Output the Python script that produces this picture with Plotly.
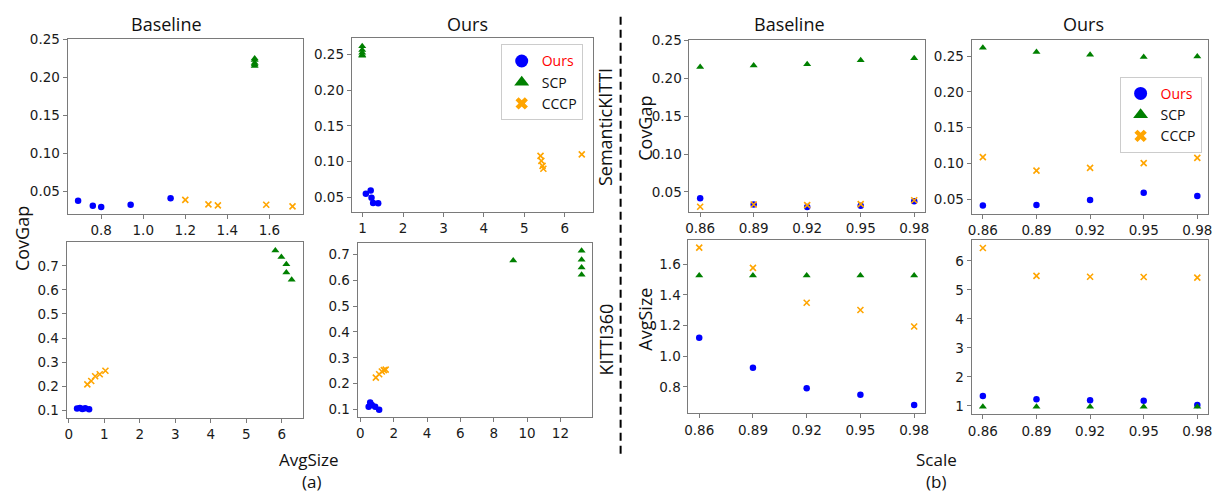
import plotly.graph_objects as go

W, H = 1216, 495

# ---------------- data ----------------
scales = [0.86, 0.89, 0.92, 0.95, 0.98]
scale_labels = ["0.86", "0.89", "0.92", "0.95", "0.98"]

# (a) SemanticKITTI - Baseline  (x: AvgSize, y: CovGap)
sk_base_ours_size = [0.69, 0.76, 0.80, 0.94, 1.13]
sk_base_ours_gap = [0.038, 0.0315, 0.0297, 0.0328, 0.0413]
sk_base_scp_size = [1.53, 1.53, 1.53, 1.53, 1.53]
sk_base_scp_gap = [0.215, 0.217, 0.219, 0.223, 0.225]
sk_base_cccp_size = [1.20, 1.31, 1.355, 1.585, 1.71]
sk_base_cccp_gap = [0.039, 0.0332, 0.0318, 0.0327, 0.0305]

# (a) SemanticKITTI - Ours
sk_ours_ours_size = [1.385, 1.26, 1.22, 1.20, 1.08]
sk_ours_ours_gap = [0.0418, 0.0422, 0.0495, 0.0596, 0.055]
sk_ours_scp_size = [0.99, 0.99, 0.99, 0.99, 0.99]
sk_ours_scp_gap = [0.261, 0.256, 0.252, 0.248, 0.249]
sk_ours_cccp_size = [6.42, 5.47, 5.45, 5.42, 5.40]
sk_ours_cccp_gap = [0.110, 0.090, 0.094, 0.101, 0.108]

# (a) KITTI360 - Baseline
k_base_ours_size = [0.23, 0.31, 0.38, 0.46, 0.57]
k_base_ours_gap = [0.107, 0.109, 0.105, 0.108, 0.103]
k_base_scp_size = [5.82, 5.99, 6.13, 6.13, 6.28]
k_base_scp_gap = [0.764, 0.737, 0.707, 0.673, 0.642]
k_base_cccp_size = [0.52, 0.63, 0.74, 0.87, 1.03]
k_base_cccp_gap = [0.207, 0.221, 0.241, 0.249, 0.264]

# (a) KITTI360 - Ours
k_ours_ours_size = [0.50, 0.59, 0.69, 0.89, 1.13]
k_ours_ours_gap = [0.110, 0.127, 0.117, 0.110, 0.099]
k_ours_scp_size = [9.17, 13.27, 13.27, 13.27, 13.27]
k_ours_scp_gap = [0.677, 0.715, 0.680, 0.650, 0.622]
k_ours_cccp_size = [0.93, 1.13, 1.29, 1.41, 1.52]
k_ours_cccp_gap = [0.223, 0.236, 0.247, 0.252, 0.254]

# (b) vs Scale
b_sk_base_ours = [0.0417, 0.0335, 0.0300, 0.0318, 0.0378]
b_sk_base_scp = [0.215, 0.217, 0.2187, 0.224, 0.2265]
b_sk_base_cccp = [0.0304, 0.0335, 0.0326, 0.0339, 0.039]
b_sk_ours_ours = [0.0413, 0.0422, 0.049, 0.0591, 0.0546]
b_sk_ours_scp = [0.262, 0.256, 0.252, 0.249, 0.2495]
b_sk_ours_cccp = [0.109, 0.090, 0.094, 0.1006, 0.108]
b_k_base_ours = [1.121, 0.925, 0.791, 0.749, 0.681]
b_k_base_scp = [1.527, 1.527, 1.527, 1.527, 1.527]
b_k_base_cccp = [1.709, 1.577, 1.349, 1.302, 1.194]
b_k_ours_ours = [1.34, 1.23, 1.19, 1.17, 1.03]
b_k_ours_scp = [0.97, 0.97, 0.97, 0.97, 0.97]
b_k_ours_cccp = [6.44, 5.48, 5.45, 5.44, 5.42]

# ---------------- styles ----------------
BLUE, GREEN, ORANGE = "#0000ff", "#008000", "#ffa500"
TICKFONT = dict(family="DejaVu Sans", size=13.5, color="#1a1a1a")
LABFONT = dict(family="Open Sans", size=18, color="#111")
FRAME = "#7a7a7a"


def mk_ours(x, y, ax):
    return go.Scatter(x=x, y=y, mode="markers", xaxis="x" + ax, yaxis="y" + ax, showlegend=False,
                      marker=dict(symbol="circle", size=6.5, color=BLUE))


def mk_scp(x, y, ax):
    return go.Scatter(x=x, y=y, mode="markers", xaxis="x" + ax, yaxis="y" + ax, showlegend=False,
                      marker=dict(symbol="triangle-up", size=7, color=GREEN))


def mk_cccp(x, y, ax):
    return go.Scatter(x=x, y=y, mode="markers", xaxis="x" + ax, yaxis="y" + ax, showlegend=False,
                      marker=dict(symbol="x-thin", size=6, color=ORANGE,
                                  line=dict(width=1.6, color=ORANGE)))


fig = go.Figure()

panels = [
    ("", sk_base_ours_size, sk_base_ours_gap, sk_base_scp_size, sk_base_scp_gap, sk_base_cccp_size, sk_base_cccp_gap),
    ("2", sk_ours_ours_size, sk_ours_ours_gap, sk_ours_scp_size, sk_ours_scp_gap, sk_ours_cccp_size, sk_ours_cccp_gap),
    ("3", k_base_ours_size, k_base_ours_gap, k_base_scp_size, k_base_scp_gap, k_base_cccp_size, k_base_cccp_gap),
    ("4", k_ours_ours_size, k_ours_ours_gap, k_ours_scp_size, k_ours_scp_gap, k_ours_cccp_size, k_ours_cccp_gap),
    ("5", scales, b_sk_base_ours, scales, b_sk_base_scp, scales, b_sk_base_cccp),
    ("6", scales, b_sk_ours_ours, scales, b_sk_ours_scp, scales, b_sk_ours_cccp),
    ("7", scales, b_k_base_ours, scales, b_k_base_scp, scales, b_k_base_cccp),
    ("8", scales, b_k_ours_ours, scales, b_k_ours_scp, scales, b_k_ours_cccp),
]
for ax, ox, oy, sx, sy, cx, cy in panels:
    fig.add_trace(mk_ours(ox, oy, ax))
    fig.add_trace(mk_scp(sx, sy, ax))
    fig.add_trace(mk_cccp(cx, cy, ax))

# legend-only entries
for lg in ["legend", "legend2"]:
    fig.add_trace(go.Scatter(x=[None], y=[None], mode="markers", name="<span style='color:red'>Ours</span>",
                             legend=lg, marker=dict(symbol="circle", size=13, color=BLUE)))
    fig.add_trace(go.Scatter(x=[None], y=[None], mode="markers", name="SCP",
                             legend=lg, marker=dict(symbol="triangle-up", size=13, color=GREEN)))
    fig.add_trace(go.Scatter(x=[None], y=[None], mode="markers", name="CCCP",
                             legend=lg, marker=dict(symbol="x", size=11, color=ORANGE)))


def dx(a, b):
    return [a / W, b / W]


def dy(top, bottom):
    return [1 - bottom / H, 1 - top / H]


def xax(dom, rng, anchor, **kw):
    d = dict(domain=dom, range=rng, anchor=anchor, showgrid=False, zeroline=False, showline=True,
             mirror=True, linecolor=FRAME, linewidth=1, ticks="outside", ticklen=4, tickcolor=FRAME,
             tickfont=TICKFONT)
    d.update(kw)
    return d


layout_axes = dict(
    xaxis=xax(dx(64, 301), [0.64, 1.76], "y", tickvals=[0.8, 1.0, 1.2, 1.4, 1.6], tickformat=".1f"),
    yaxis=xax(dy(32, 209), [0.021, 0.25], "x", tickvals=[0.05, 0.10, 0.15, 0.20, 0.25], tickformat=".2f"),
    xaxis2=xax(dx(350, 593), [0.73, 6.70], "y2", tickvals=[1, 2, 3, 4, 5, 6]),
    yaxis2=xax(dy(31, 207), [0.030, 0.272], "x2", tickvals=[0.05, 0.10, 0.15, 0.20, 0.25], tickformat=".2f"),
    xaxis3=xax(dx(63, 301), [-0.065, 6.60], "y3", tickvals=[0, 1, 2, 3, 4, 5, 6]),
    yaxis3=xax(dy(238, 417), [0.066, 0.799], "x3", tickvals=[0.1, 0.2, 0.3, 0.4, 0.5, 0.6, 0.7], tickformat=".1f"),
    xaxis4=xax(dx(356, 592), [-0.16, 13.9], "y4", tickvals=[0, 2, 4, 6, 8, 10, 12]),
    yaxis4=xax(dy(239, 416), [0.0695, 0.744], "x4", tickvals=[0.1, 0.2, 0.3, 0.4, 0.5, 0.6, 0.7], tickformat=".1f"),
    xaxis5=xax(dx(690, 927), [0.854, 0.986], "y5", tickvals=scales, ticktext=scale_labels),
    yaxis5=xax(dy(33, 207), [0.024, 0.25], "x5", tickvals=[0.05, 0.10, 0.15, 0.20, 0.25], tickformat=".2f"),
    xaxis6=xax(dx(974, 1212), [0.8537, 0.986], "y6", tickvals=scales, ticktext=scale_labels),
    yaxis6=xax(dy(33, 209), [0.030, 0.272], "x6", tickvals=[0.05, 0.10, 0.15, 0.20, 0.25], tickformat=".2f"),
    xaxis7=xax(dx(689, 927), [0.854, 0.986], "y7", tickvals=scales, ticktext=scale_labels),
    yaxis7=xax(dy(236, 412), [0.627, 1.758], "x7", tickvals=[0.8, 1.0, 1.2, 1.4, 1.6], tickformat=".1f"),
    xaxis8=xax(dx(974, 1212), [0.8537, 0.986], "y8", tickvals=scales, ticktext=scale_labels),
    yaxis8=xax(dy(236, 413), [0.706, 6.71], "x8", tickvals=[1, 2, 3, 4, 5, 6]),
)

annots = []


def ann(text, x, y, angle=0, font=LABFONT):
    annots.append(dict(text=text, x=x / W, y=1 - y / H, xref="paper", yref="paper", showarrow=False,
                       xanchor="center", yanchor="middle", textangle=angle, font=font))


SMALL = dict(family="Open Sans", size=17, color="#111")
ann("Baseline", 164, 16)
ann("Ours", 467, 16)
ann("Baseline", 791, 16)
ann("Ours", 1087, 16)
ann("CovGap", 18, 234, -90)
ann("AvgSize", 307, 459, font=SMALL)
ann("(a)", 310, 481, font=SMALL)
ann("Scale", 939, 459, font=SMALL)
ann("(b)", 938, 481, font=SMALL)
ann("SemanticKITTI", 605, 121, -90)
ann("KITTI360", 606, 337, -90)
ann("CovGap", 645, 122, -90)
ann("AvgSize", 645, 316, -90)

legend_common = dict(bgcolor="white", bordercolor="#cccccc", borderwidth=1,
                     font=dict(family="Open Sans", size=14, color="#111"),
                     xanchor="left", yanchor="top", itemsizing="trace", tracegroupgap=0)

fig.update_layout(
    width=W, height=H, margin=dict(l=0, r=0, t=0, b=0),
    paper_bgcolor="white", plot_bgcolor="white",
    legend=dict(x=500 / W, y=1 - 37 / H, **legend_common),
    legend2=dict(x=1123 / W, y=1 - 70 / H, **legend_common),
    annotations=annots,
    shapes=[dict(type="line", xref="paper", yref="paper", x0=620.7 / W, x1=620.7 / W,
                 y0=1 - 453 / H, y1=1 - 8 / H, line=dict(color="black", width=2, dash="8px,5px"))],
    **layout_axes,
)

fig.write_html("out.html", config={"displayModeBar": False},
               post_script="document.body.style.margin='0';document.body.style.overflow='hidden';")
